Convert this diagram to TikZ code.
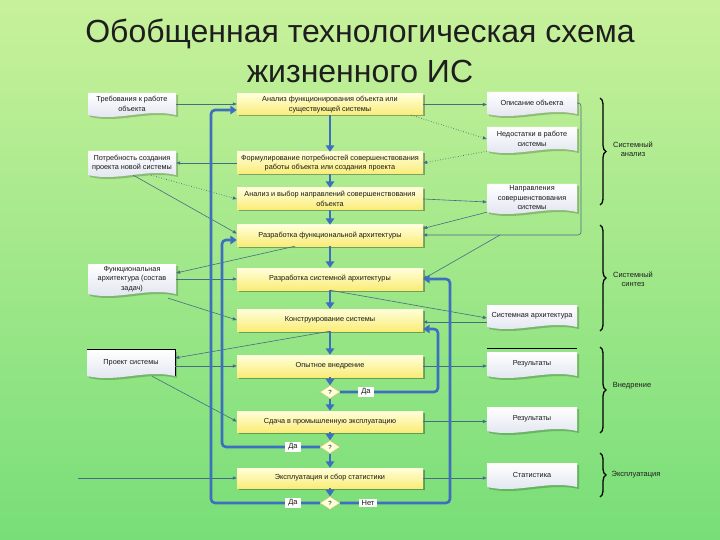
\documentclass[tikz,border=0pt]{standalone}
\usepackage{fontspec}
\setmainfont{Liberation Sans}
\usetikzlibrary{arrows.meta,shapes.geometric,decorations.pathreplacing,shadows}
\definecolor{bgtop}{RGB}{200,241,155}
\definecolor{bgmid}{RGB}{246,250,200}
\definecolor{bgbot}{RGB}{120,222,120}
\definecolor{proctop}{RGB}{255,255,218}
\definecolor{procbot}{RGB}{250,236,120}
\definecolor{docbot}{RGB}{222,226,238}
\definecolor{loopblue}{RGB}{62,110,190}
\definecolor{thinline}{RGB}{70,108,135}
\definecolor{txt}{RGB}{25,25,25}
\definecolor{ttlcol}{RGB}{30,30,30}
\definecolor{diaedge}{RGB}{200,190,110}
\newcommand\docnode[6]{%
  \pgfmathsetmacro\dxl{#2-#4/2}\pgfmathsetmacro\dxr{#2+#4/2}%
  \pgfmathsetmacro\dyt{#3-#5/2}\pgfmathsetmacro\dyb{#3+#5/2}%
  \pgfmathsetmacro\dxa{#2+#4/6}\pgfmathsetmacro\dxb{#2-#4/6}%
  \fill[black,opacity=.2] (\dxl+2,\dyt+2) -- (\dxr+2,\dyt+2) -- (\dxr+2,\dyb+2) .. controls (\dxa+2,\dyb-5) and (\dxb+2,\dyb+9) .. (\dxl+2,\dyb+2) -- cycle;
  \shade[top color=white, bottom color=docbot] (\dxl,\dyt) -- (\dxr,\dyt) -- (\dxr,\dyb) .. controls (\dxa,\dyb-7) and (\dxb,\dyb+7) .. (\dxl,\dyb) -- cycle;
  \node[doctext, minimum width=#4pt, minimum height=#5pt] (#1) at (#2,#3) {#6};
}
\begin{document}
\begin{tikzpicture}[x=1pt,y=-1pt,
  proc/.style={rectangle, minimum width=186pt, minimum height=21pt, inner sep=1pt, align=center,
    font=\fontsize{7.3}{9.5}\selectfont, text=txt, top color=proctop, bottom color=procbot,
    drop shadow={shadow xshift=1.5pt, shadow yshift=-1.5pt, opacity=.3, fill=black}},
  doctext/.style={rectangle, inner xsep=2pt, inner ysep=0pt, align=center, font=\fontsize{7.3}{9.5}\selectfont, text=txt},
  dec/.style={diamond, minimum width=20pt, minimum height=13pt, inner sep=0pt, fill=proctop, draw=diaedge, line width=.4pt, font=\fontsize{6}{6}\selectfont},
  lbl/.style={fill=white, inner xsep=3pt, inner ysep=1.2pt, font=\fontsize{7.5}{8}\selectfont, text=txt},
  flow/.style={draw=loopblue, line width=2.6pt, -{Triangle[length=6.5pt,width=8.5pt]}},
  backloop/.style={flow, rounded corners=4pt},
  conn/.style={draw=thinline, line width=.6pt, -{Triangle[length=4pt,width=3.2pt]}},
  dotconn/.style={conn, dotted, line width=.8pt},
  bracestyle/.style={decorate, decoration={brace, amplitude=6pt}, line width=1.3pt, black},
  bracelbl/.style={font=\fontsize{7.5}{9}\selectfont, align=center, text=ttlcol},
  ttl/.style={font=\fontsize{32}{36}\selectfont, text=ttlcol, anchor=base}
]
\shade[top color=bgtop, middle color=bgmid, bottom color=bgbot] (0,0) rectangle (720,540);
\useasboundingbox (0,0) rectangle (720,540);

\node[ttl] (t1) at (360,43) {Обобщенная технологическая схема};
\node[ttl] (t2) at (360,83) {жизненного ИС};

% process boxes
\node[proc] (b1) at (330,104.5) {Анализ функционирования объекта или\\существующей системы};
\node[proc,minimum height=22pt] (b2) at (330,163) {Формулирование потребностей совершенствования\\работы объекта или создания проекта};
\node[proc,minimum height=22pt] (b3) at (330,199) {Анализ и выбор направлений совершенствования\\объекта};
\node[proc] (b4) at (330,235.5) {Разработка функциональной архитектуры};
\node[proc,minimum height=22pt] (b5) at (330,279) {Разработка системной архитектуры};
\node[proc,minimum height=22pt] (b6) at (330,320) {Конструирование системы};
\node[proc,minimum height=22pt] (b7) at (330,366) {Опытное внедрение};
\node[proc] (b8) at (330,421.5) {Сдача в промышленную эксплуатацию};
\node[proc,minimum height=20pt] (b9) at (330,478) {Эксплуатация и сбор статистики};

\node[dec] (d1) at (330,392) {?};
\node[dec] (d2) at (330,447) {?};
\node[dec] (d3) at (330,503) {?};

% documents
\docnode{ld1}{132}{104}{88}{22}{Требования к работе\\объекта}
\docnode{ld2}{132}{163}{88}{24}{Потребность создания\\проекта новой системы}
\docnode{ld3}{132}{279}{88}{30}{Функциональная\\архитектура (состав\\задач)}
\docnode{ld4}{131}{363}{88}{26}{Проект системы}
\docnode{rd1}{532}{103}{90}{22}{Описание объекта}
\docnode{rd2}{532}{139}{90}{24}{Недостатки в работе\\системы}
\docnode{rd3}{532}{198}{90}{28}{Направления\\совершенствования\\системы}
\docnode{rd4}{532}{316}{90}{22}{Системная архитектура}
\docnode{rd5}{532}{364}{90}{24}{Результаты}
\docnode{rd6}{532}{419}{90}{24}{Результаты}
\docnode{rd7}{532}{475}{90}{24}{Статистика}
\draw[black,line width=.8pt] (ld4.north west) -- (ld4.north east) -- (ld4.south east);
\draw[black,line width=.8pt] ([yshift=3pt]rd5.north west) -- ([yshift=3pt]rd5.north east);

% thin connectors
\draw[conn] (ld1.east) -- (ld1.east -| b1.west);
\draw[conn] (b1.east) -- (b1.east -| rd1.west);
\draw[dotconn] ([xshift=-12pt]b1.south east) -- (rd2.west);
\draw[dotconn] (rd2.south west) -- (b2.east);
\draw[conn] (b2.west) -- (b2.west -| ld2.east);
\draw[dotconn] ([xshift=-25pt]ld2.south east) -- (b3.west);
\draw[conn] ([xshift=-43pt]ld2.south east) -- ([yshift=2pt]b4.west);
\draw[conn] (b3.east) -- ([yshift=-4pt]rd3.west);
\coordinate (j0) at (581,235);
\draw[conn, rounded corners=3pt] (rd1.east) -| (j0) -- (j0 -| b4.east);
\draw[conn] (rd3.south west) -- ([yshift=7pt]b4.east);
\coordinate (j1) at (500,235);
\draw[conn] (j1) -- (b5.east);
\draw[conn] ([xshift=-35pt]b4.south) -- ([yshift=6pt]ld3.east);
\draw[conn] (ld3.east) -- (ld3.east -| b5.west);
\draw[conn] ([xshift=-8pt,yshift=-4pt]ld3.south east) -- (b6.west);
\draw[conn] (b5.south) -- ([yshift=-2pt]rd4.west);
\draw[conn] ([yshift=-6pt]rd4.west) -- ([yshift=-2pt]b6.east);
\draw[conn] (b6.south) -- ([yshift=5pt]ld4.east);
\draw[conn] ([yshift=-3pt]ld4.east) -- (b7.west);
\draw[conn] ([xshift=21pt]ld4.south) -- (b8.west);
\draw[conn] (b7.east) -- (b7.east -| rd5.west);
\draw[conn] (b8.east) -- (b8.east -| rd6.west);
\draw[conn] (b9.east) -- (b9.east -| rd7.west);
\coordinate (s9) at (78,478);
\draw[conn] (s9) -- (b9.west);

% main flow
\foreach \a/\b in {b1/b2,b2/b3,b3/b4,b4/b5,b5/b6,b6/b7,b7/d1,d1/b8,b8/d2,d2/b9,b9/d3}
  \draw[flow] (\a) -- (\b);

% feedback loops
\coordinate (c1) at (438,329);
\draw[backloop] (d1.east) -| (c1) -- (c1 -| b6.east);
\coordinate (c2) at (450,279);
\draw[backloop] (d3.east) -| (c2) -- (c2 -| b5.east);
\coordinate (c3) at (222,240);
\draw[backloop] (d2.west) -| (c3) -- (c3 -| b4.west);
\coordinate (c4) at (211,110);
\draw[backloop] (d3.west) -| (c4) -- (c4 -| b1.west);

\node[lbl] (l1) at (366,392) {Да};
\node[lbl] (l2) at (293,447) {Да};
\node[lbl] (l3) at (293,503) {Да};
\node[lbl] (l4) at (368,503) {Нет};

% braces
\draw[bracestyle] (600,98) -- (600,205);
\node[bracelbl] (g1) at (633,149) {Системный\\анализ};
\draw[bracestyle] (600,225) -- (600,331);
\node[bracelbl] (g2) at (633,279) {Системный\\синтез};
\draw[bracestyle] (600,347) -- (600,433);
\node[bracelbl] (g3) at (632,386) {Внедрение};
\draw[bracestyle] (600,453) -- (600,497);
\node[bracelbl] (g4) at (636,475) {Эксплуатация};
\end{tikzpicture}
\end{document}
